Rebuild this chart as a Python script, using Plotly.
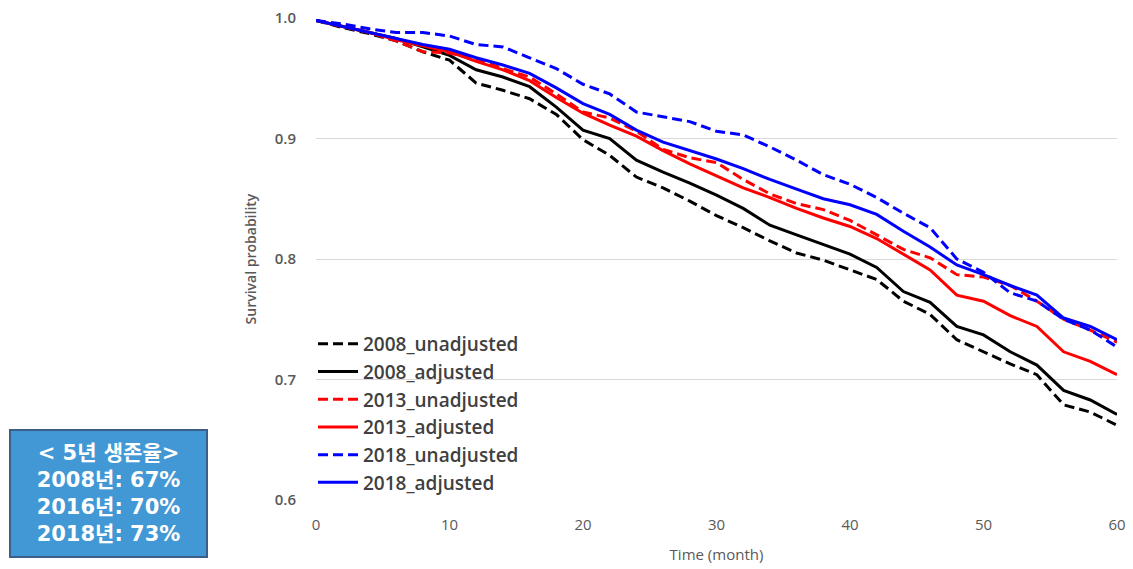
import plotly.graph_objects as go

# Follow-up time in months
months = list(range(0, 61, 2))

# Survival probability curves
surv_2008_unadj = [0.998, 0.992, 0.987, 0.981, 0.972, 0.965, 0.946, 0.940, 0.933, 0.920,
                   0.899, 0.886, 0.868, 0.859, 0.848, 0.836, 0.826, 0.815, 0.805, 0.799,
                   0.791, 0.783, 0.765, 0.754, 0.733, 0.723, 0.713, 0.704, 0.679, 0.673, 0.662]
surv_2008_adj = [0.998, 0.993, 0.988, 0.983, 0.976, 0.969, 0.957, 0.951, 0.943, 0.926,
                 0.907, 0.900, 0.882, 0.872, 0.863, 0.853, 0.842, 0.828, 0.820, 0.812,
                 0.804, 0.793, 0.773, 0.764, 0.744, 0.737, 0.723, 0.712, 0.691, 0.683, 0.671]
surv_2013_unadj = [0.998, 0.993, 0.988, 0.981, 0.972, 0.971, 0.966, 0.958, 0.951, 0.937,
                   0.922, 0.917, 0.906, 0.891, 0.884, 0.880, 0.866, 0.854, 0.846, 0.841,
                   0.832, 0.820, 0.808, 0.801, 0.787, 0.785, 0.778, 0.765, 0.750, 0.741, 0.731]
surv_2013_adj = [0.998, 0.993, 0.988, 0.982, 0.977, 0.972, 0.964, 0.957, 0.948, 0.934,
                 0.921, 0.911, 0.902, 0.890, 0.879, 0.869, 0.859, 0.851, 0.842, 0.834,
                 0.827, 0.817, 0.804, 0.791, 0.770, 0.765, 0.753, 0.744, 0.723, 0.715, 0.704]
surv_2018_unadj = [0.998, 0.995, 0.991, 0.988, 0.988, 0.985, 0.978, 0.976, 0.967, 0.958,
                   0.945, 0.937, 0.922, 0.918, 0.914, 0.906, 0.903, 0.893, 0.882, 0.870,
                   0.862, 0.851, 0.838, 0.826, 0.800, 0.789, 0.772, 0.765, 0.750, 0.741, 0.727]
surv_2018_adj = [0.998, 0.993, 0.988, 0.983, 0.978, 0.974, 0.967, 0.961, 0.954, 0.942,
                 0.929, 0.920, 0.907, 0.897, 0.890, 0.883, 0.875, 0.866, 0.858, 0.850,
                 0.845, 0.837, 0.823, 0.810, 0.795, 0.787, 0.778, 0.770, 0.751, 0.744, 0.733]

y_ticks = [0.6, 0.7, 0.8, 0.9, 1.0]
y_tick_text = ["0.6", "0.7", "0.8", "0.9", "1.0"]
x_ticks = [0, 10, 20, 30, 40, 50, 60]

summary_lines = ["&lt; 5년 생존율&gt;", "2008년: 67%", "2016년: 70%", "2018년: 73%"]

series = [
    ("2008_unadjusted", surv_2008_unadj, "#000000", "10px,5px"),
    ("2008_adjusted", surv_2008_adj, "#000000", "solid"),
    ("2013_unadjusted", surv_2013_unadj, "#ff0000", "10px,5px"),
    ("2013_adjusted", surv_2013_adj, "#ff0000", "solid"),
    ("2018_unadjusted", surv_2018_unadj, "#0000ff", "10px,5px"),
    ("2018_adjusted", surv_2018_adj, "#0000ff", "solid"),
]

fig = go.Figure()
for i, (name, vals, color, dash) in enumerate(series):
    fig.add_trace(go.Scatter(
        x=months, y=vals, mode="lines", name=name,
        legendgroup=f"g{i}",
        line=dict(color=color, width=3, dash=dash),
    ))

W, H = 1133, 569
ml, mr, mt, mb = 316, 16, 18, 69
pw = W - ml - mr
ph = H - mt - mb

def px_x(p):
    return (p - ml) / pw

def px_y(p):
    return (H - mb - p) / ph

fig.update_layout(
    width=W, height=H,
    margin=dict(l=ml, r=mr, t=mt, b=mb, pad=0, autoexpand=False),
    paper_bgcolor="white", plot_bgcolor="white",
    font=dict(family="Open Sans, Noto Sans, sans-serif", color="#595959"),
    showlegend=True,
    legend=dict(
        x=px_x(313), y=px_y(325), xanchor="left", yanchor="top",
        bgcolor="rgba(0,0,0,0)", borderwidth=0,
        font=dict(size=19, color="#404040", family="Open Sans, sans-serif", weight=600),
        traceorder="grouped", tracegroupgap=0, itemwidth=40,
    ),
    xaxis=dict(
        range=[0, 60], tickvals=x_ticks, showgrid=False, zeroline=False,
        showline=False, ticks="", automargin=False, ticklabelstandoff=14,
        tickfont=dict(size=15, color="#595959", family="Open Sans, sans-serif"),
        title=dict(text="Time (month)", font=dict(size=15, color="#595959"), standoff=16),
    ),
    yaxis=dict(
        range=[0.6, 1.0], tickvals=y_ticks, ticktext=y_tick_text,
        showgrid=True, gridcolor="#d9d9d9", gridwidth=1, zeroline=False,
        showline=False, ticks="", ticklabelstandoff=19, automargin=False,
        tickfont=dict(size=15, color="#595959", family="Open Sans, sans-serif", weight=600),
        title=dict(text="Survival probability",
                   font=dict(size=14, color="#595959", weight=600), standoff=14),
    ),
)

fig.add_annotation(
    xref="paper", yref="paper",
    x=px_x(108.5), y=px_y(493.5), xanchor="center", yanchor="middle",
    text="<br>".join(f"<b>{s}</b>" for s in summary_lines),
    showarrow=False, align="center",
    font=dict(size=21, color="white", family="DejaVu Sans, Noto Sans CJK KR, sans-serif"),
    bgcolor="#4298d4", bordercolor="#3b5f86", borderwidth=2,
    width=193, height=123,
)

fig.write_html("out.html")
